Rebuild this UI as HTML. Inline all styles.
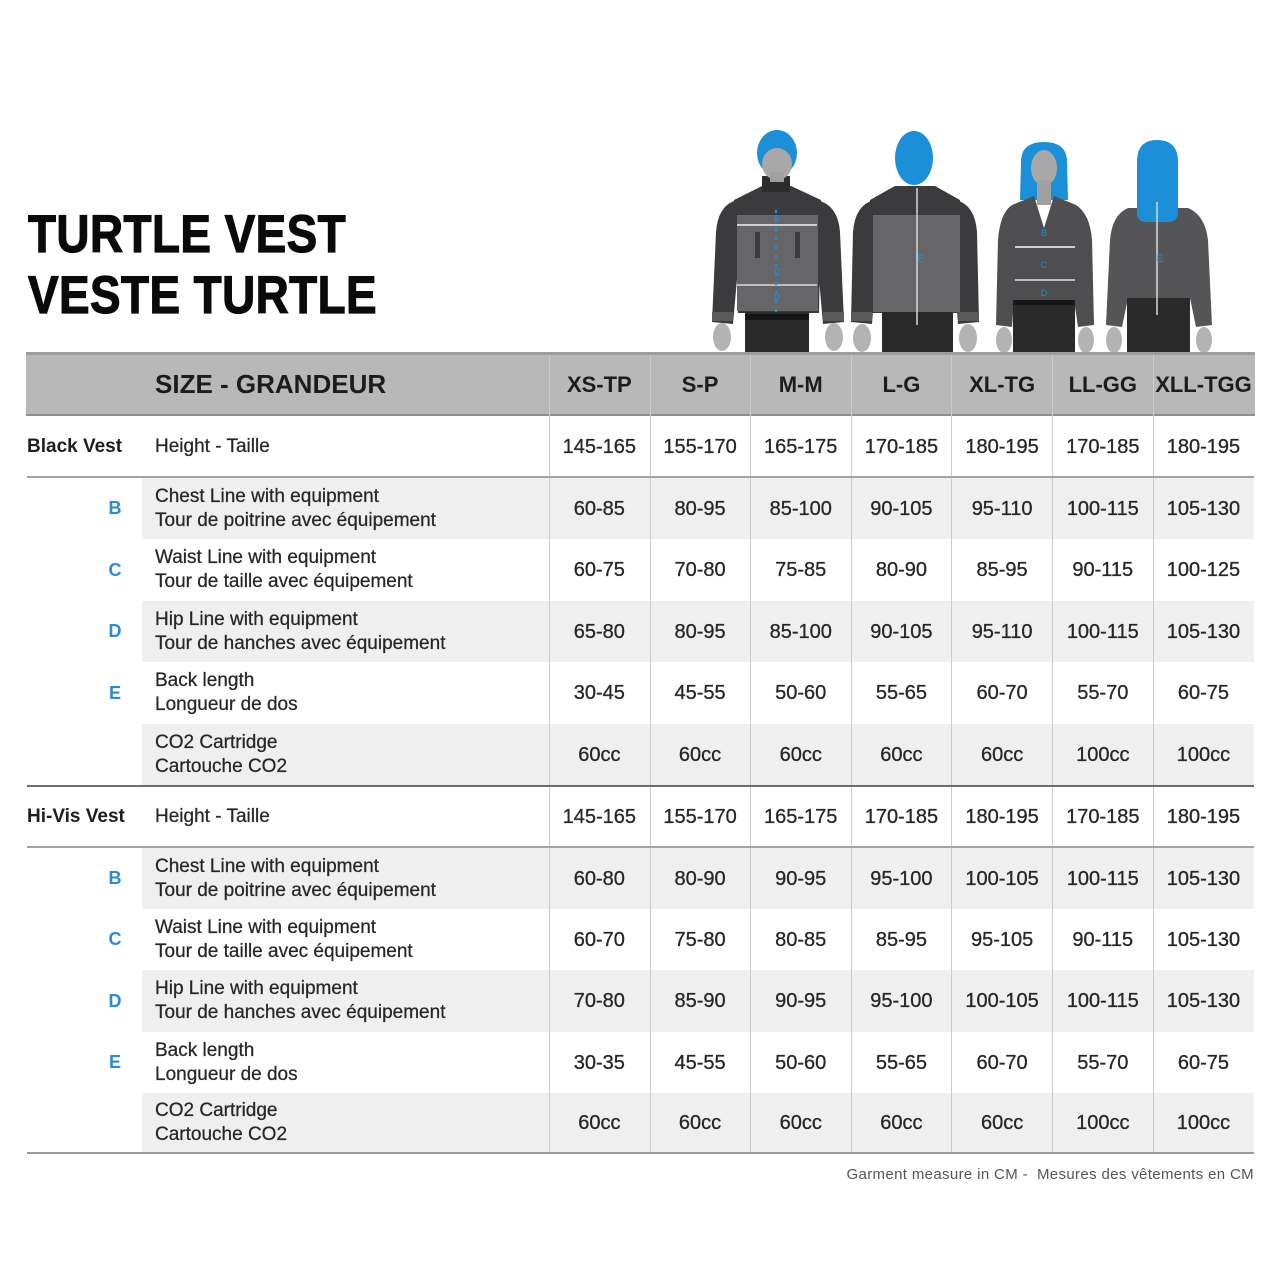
<!DOCTYPE html>
<html><head><meta charset="utf-8">
<style>
*{margin:0;padding:0;box-sizing:border-box}
html,body{width:1280px;height:1280px;background:#fff;overflow:hidden}
body{position:relative;font-family:"Liberation Sans",sans-serif;color:#2a2a2a}
.abs{position:absolute}
.title{position:absolute;left:28px;font-weight:bold;font-size:53px;line-height:53px;color:#0a0a0a;white-space:nowrap;transform:scaleX(0.865);transform-origin:0 0;letter-spacing:0.5px;-webkit-text-stroke:1.2px #0a0a0a}
.hdr{position:absolute;left:26px;width:1229px;top:352px;height:64px;background:#b8b8b8;border-top:3px solid #9d9d9d;border-bottom:2px solid #8e8e8e}
.hdrtxt{position:absolute;top:355px;height:59px;display:flex;align-items:center;font-weight:bold;color:#1c1c1c;white-space:nowrap}
.row{position:absolute;left:27px;width:1227px}
.gbg{position:absolute;left:115px;right:0;top:0;bottom:0;background:#efefef}
.letter{position:absolute;left:76px;width:24px;top:0;bottom:0;display:flex;align-items:center;justify-content:center;color:#2d8bd0;font-weight:bold;font-size:18px}
.grp{position:absolute;left:0;top:0;bottom:0;display:flex;align-items:center;font-weight:bold;font-size:19px;color:#1e1e1e;white-space:nowrap}
.label{position:absolute;left:128px;top:0;bottom:0;display:flex;align-items:center;font-size:19px;line-height:24px;color:#262626;white-space:nowrap;-webkit-text-stroke:0.25px #262626}
.cells{position:absolute;left:522px;top:0;bottom:0;width:705px;display:flex}
.cells span{flex:0 0 100.7px;display:flex;align-items:center;justify-content:center;font-size:20px;line-height:20px;color:#262626;white-space:nowrap;-webkit-text-stroke:0.3px #262626}
.vl{position:absolute;top:355px;height:798px;width:1px;background:#cbcbcb}
.hl{position:absolute;left:27px;width:1227px}
</style></head><body>

<div class="title" style="top:208px">TURTLE VEST</div>
<div class="title" style="top:269px">VESTE TURTLE</div>

<!-- figures -->
<svg class="abs" style="left:0;top:0" width="1280" height="360" viewBox="0 0 1280 360">
  <!-- Figure 1: man front -->
  <path d="M737,200 Q718,205 716,232 L712,322 L733,324 L740,245 Z" fill="#3b3b3d"/>
  <path d="M817,200 Q838,205 840,232 L844,322 L823,324 L816,245 Z" fill="#3b3b3d"/>
  <path d="M734,200 L762,186 L791,186 L821,200 L819,313 L738,313 Z" fill="#3b3b3d"/>
  <rect x="737" y="215" width="81" height="96" fill="#666668"/>
  <rect x="755" y="232" width="5" height="26" fill="#3b3b3d"/>
  <rect x="795" y="232" width="5" height="26" fill="#3b3b3d"/>
  <rect x="712" y="312" width="21" height="9" fill="#5a5a5a"/>
  <rect x="823" y="312" width="21" height="9" fill="#5a5a5a"/>
  <rect x="762" y="176" width="28" height="16" fill="#2c2c2e"/>
  <rect x="745" y="312" width="64" height="41" fill="#2a2a2a"/>
  <rect x="745" y="314" width="64" height="6" fill="#151515"/>
  <ellipse cx="722" cy="337" rx="9" ry="14" fill="#b3b3b3"/>
  <ellipse cx="834" cy="337" rx="9" ry="14" fill="#b3b3b3"/>
  <ellipse cx="777" cy="153" rx="20" ry="23" fill="#1b8fd8"/>
  <ellipse cx="777" cy="164" rx="15" ry="16" fill="#a8a8a8"/>
  <rect x="770" y="172" width="14" height="10" fill="#a0a0a0"/>
  <line x1="737" y1="225" x2="817" y2="225" stroke="#cfcfcf" stroke-width="2"/>
  <line x1="737" y1="285" x2="817" y2="285" stroke="#bdbdbd" stroke-width="2"/>
  <line x1="776" y1="210" x2="776" y2="315" stroke="#1b8fd8" stroke-width="2" stroke-dasharray="3 6"/>
  <text x="777" y="222" font-size="9" fill="#1b8fd8" text-anchor="middle" font-family="Liberation Sans">B</text>
  <text x="777" y="275" font-size="9" fill="#1b8fd8" text-anchor="middle" font-family="Liberation Sans">C</text>
  <text x="777" y="300" font-size="9" fill="#1b8fd8" text-anchor="middle" font-family="Liberation Sans">D</text>

  <!-- Figure 2: man back -->
  <path d="M874,200 Q855,205 853,232 L851,322 L872,324 L878,245 Z" fill="#3b3b3d"/>
  <path d="M956,200 Q975,205 977,232 L979,322 L958,324 L952,245 Z" fill="#3b3b3d"/>
  <path d="M870,200 L895,186 L935,186 L960,200 L960,313 L872,313 Z" fill="#3b3b3d"/>
  <rect x="873" y="215" width="87" height="97" fill="#666668"/>
  <rect x="851" y="312" width="21" height="9" fill="#5a5a5a"/>
  <rect x="958" y="312" width="21" height="9" fill="#5a5a5a"/>
  <rect x="882" y="312" width="71" height="41" fill="#2a2a2a"/>
  <ellipse cx="862" cy="338" rx="9" ry="14" fill="#b3b3b3"/>
  <ellipse cx="968" cy="338" rx="9" ry="14" fill="#b3b3b3"/>
  <ellipse cx="914" cy="158" rx="19" ry="27" fill="#1b8fd8"/>
  <line x1="917" y1="188" x2="917" y2="325" stroke="#d8d8d8" stroke-width="1.5"/>
  <text x="921" y="262" font-size="11" fill="#1b8fd8" text-anchor="middle" font-family="Liberation Sans">E</text>

  <!-- Figure 3: woman front -->
  <path d="M1021,162 Q1021,142 1044,142 Q1067,142 1067,162 L1068,200 L1020,200 Z" fill="#1b8fd8"/>
  <ellipse cx="1044" cy="168" rx="13" ry="18" fill="#a8a8a8"/>
  <rect x="1037" y="180" width="14" height="25" fill="#a0a0a0"/>
  <path d="M1012,205 L1034,196 L1044,228 L1054,196 L1076,205 Q1090,214 1092,240 L1094,325 L1078,327 L1074,300 L1014,300 L1012,327 L996,325 L998,240 Q1000,213 1012,205 Z" fill="#4e4e50"/>
  <rect x="1013" y="300" width="62" height="53" fill="#2a2a2a"/>
  <rect x="1013" y="300" width="62" height="5" fill="#161616"/>
  <ellipse cx="1004" cy="340" rx="8" ry="13" fill="#b3b3b3"/>
  <ellipse cx="1086" cy="340" rx="8" ry="13" fill="#b3b3b3"/>
  <line x1="1015" y1="247" x2="1075" y2="247" stroke="#cfcfcf" stroke-width="2"/>
  <line x1="1015" y1="280" x2="1075" y2="280" stroke="#bdbdbd" stroke-width="2"/>
  <text x="1044" y="236" font-size="9" fill="#1b8fd8" text-anchor="middle" font-family="Liberation Sans">B</text>
  <text x="1044" y="268" font-size="9" fill="#1b8fd8" text-anchor="middle" font-family="Liberation Sans">C</text>
  <text x="1044" y="296" font-size="9" fill="#1b8fd8" text-anchor="middle" font-family="Liberation Sans">D</text>

  <!-- Figure 4: woman back -->
  <path d="M1128,208 L1188,208 Q1205,215 1208,240 L1212,325 L1196,327 L1190,298 L1128,298 L1122,327 L1106,325 L1110,240 Q1112,215 1128,208 Z" fill="#555557"/>
  <rect x="1127" y="298" width="63" height="55" fill="#2a2a2a"/>
  <ellipse cx="1114" cy="340" rx="8" ry="13" fill="#b3b3b3"/>
  <ellipse cx="1204" cy="340" rx="8" ry="13" fill="#b3b3b3"/>
  <path d="M1137,162 Q1137,140 1157,140 Q1178,140 1178,162 L1178,212 Q1178,222 1168,222 L1147,222 Q1137,222 1137,212 Z" fill="#1b8fd8"/>
  <line x1="1157" y1="202" x2="1157" y2="315" stroke="#d8d8d8" stroke-width="1.5"/>
  <text x="1160" y="262" font-size="11" fill="#1b8fd8" text-anchor="middle" font-family="Liberation Sans">E</text>
</svg>

<!-- header -->
<div class="hdr"></div>
<div class="hdrtxt" style="left:155px;font-size:26px">SIZE - GRANDEUR</div>
<div class="hdrtxt" style="left:549px;width:705px;font-size:22px">
  <span style="width:100.7px;text-align:center">XS-TP</span><span style="width:100.7px;text-align:center">S-P</span><span style="width:100.7px;text-align:center">M-M</span><span style="width:100.7px;text-align:center">L-G</span><span style="width:100.7px;text-align:center">XL-TG</span><span style="width:100.7px;text-align:center">LL-GG</span><span style="width:100.7px;text-align:center">XLL-TGG</span>
</div>

<!-- Black vest section -->
<div class="row" style="top:417px;height:59px">
  <div class="grp">Black Vest</div>
  <div class="label">Height - Taille</div>
  <div class="cells"><span>145-165</span><span>155-170</span><span>165-175</span><span>170-185</span><span>180-195</span><span>170-185</span><span>180-195</span></div>
</div>
<div class="row" style="top:478px;height:61px">
  <div class="gbg"></div>
  <div class="letter">B</div>
  <div class="label">Chest Line with equipment<br>Tour de poitrine avec équipement</div>
  <div class="cells"><span>60-85</span><span>80-95</span><span>85-100</span><span>90-105</span><span>95-110</span><span>100-115</span><span>105-130</span></div>
</div>
<div class="row" style="top:539px;height:62px">
  <div class="letter">C</div>
  <div class="label">Waist Line with equipment<br>Tour de taille avec équipement</div>
  <div class="cells"><span>60-75</span><span>70-80</span><span>75-85</span><span>80-90</span><span>85-95</span><span>90-115</span><span>100-125</span></div>
</div>
<div class="row" style="top:601px;height:61px">
  <div class="gbg"></div>
  <div class="letter">D</div>
  <div class="label">Hip Line with equipment<br>Tour de hanches avec équipement</div>
  <div class="cells"><span>65-80</span><span>80-95</span><span>85-100</span><span>90-105</span><span>95-110</span><span>100-115</span><span>105-130</span></div>
</div>
<div class="row" style="top:662px;height:62px">
  <div class="letter">E</div>
  <div class="label">Back length<br>Longueur de dos</div>
  <div class="cells"><span>30-45</span><span>45-55</span><span>50-60</span><span>55-65</span><span>60-70</span><span>55-70</span><span>60-75</span></div>
</div>
<div class="row" style="top:724px;height:61px">
  <div class="gbg"></div>
  <div class="label">CO2 Cartridge<br>Cartouche CO2</div>
  <div class="cells"><span>60cc</span><span>60cc</span><span>60cc</span><span>60cc</span><span>60cc</span><span>100cc</span><span>100cc</span></div>
</div>

<!-- Hi-Vis section -->
<div class="row" style="top:787px;height:59px">
  <div class="grp">Hi-Vis Vest</div>
  <div class="label">Height - Taille</div>
  <div class="cells"><span>145-165</span><span>155-170</span><span>165-175</span><span>170-185</span><span>180-195</span><span>170-185</span><span>180-195</span></div>
</div>
<div class="row" style="top:848px;height:61px">
  <div class="gbg"></div>
  <div class="letter">B</div>
  <div class="label">Chest Line with equipment<br>Tour de poitrine avec équipement</div>
  <div class="cells"><span>60-80</span><span>80-90</span><span>90-95</span><span>95-100</span><span>100-105</span><span>100-115</span><span>105-130</span></div>
</div>
<div class="row" style="top:909px;height:61px">
  <div class="letter">C</div>
  <div class="label">Waist Line with equipment<br>Tour de taille avec équipement</div>
  <div class="cells"><span>60-70</span><span>75-80</span><span>80-85</span><span>85-95</span><span>95-105</span><span>90-115</span><span>105-130</span></div>
</div>
<div class="row" style="top:970px;height:62px">
  <div class="gbg"></div>
  <div class="letter">D</div>
  <div class="label">Hip Line with equipment<br>Tour de hanches avec équipement</div>
  <div class="cells"><span>70-80</span><span>85-90</span><span>90-95</span><span>95-100</span><span>100-105</span><span>100-115</span><span>105-130</span></div>
</div>
<div class="row" style="top:1032px;height:61px">
  <div class="letter">E</div>
  <div class="label">Back length<br>Longueur de dos</div>
  <div class="cells"><span>30-35</span><span>45-55</span><span>50-60</span><span>55-65</span><span>60-70</span><span>55-70</span><span>60-75</span></div>
</div>
<div class="row" style="top:1093px;height:60px">
  <div class="gbg"></div>
  <div class="label">CO2 Cartridge<br>Cartouche CO2</div>
  <div class="cells"><span>60cc</span><span>60cc</span><span>60cc</span><span>60cc</span><span>60cc</span><span>100cc</span><span>100cc</span></div>
</div>

<!-- vertical lines -->
<div class="vl" style="left:549px"></div>
<div class="vl" style="left:650px"></div>
<div class="vl" style="left:750px"></div>
<div class="vl" style="left:851px"></div>
<div class="vl" style="left:951px"></div>
<div class="vl" style="left:1052px"></div>
<div class="vl" style="left:1153px"></div>

<!-- horizontal lines -->
<div class="hl" style="top:476px;height:2px;background:#a3a3a3"></div>
<div class="hl" style="top:785px;height:2px;background:#6e6e6e"></div>
<div class="hl" style="top:846px;height:2px;background:#a3a3a3"></div>
<div class="hl" style="top:1152px;height:2px;background:#9a9a9a"></div>

<div class="abs" style="right:26px;top:1166px;font-size:15px;line-height:18px;letter-spacing:0.35px;color:#555;white-space:nowrap">Garment measure in CM -&nbsp; Mesures des vêtements en CM</div>

</body></html>
